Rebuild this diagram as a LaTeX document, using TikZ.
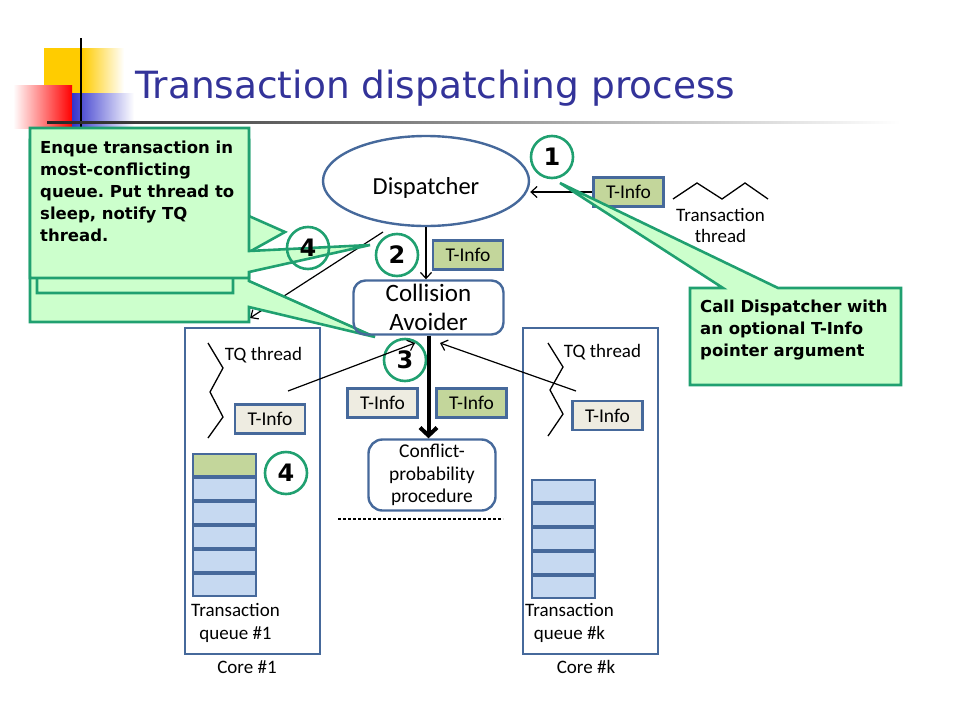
\documentclass[tikz,border=0pt]{standalone}
\usepackage{fontspec}
\setmainfont{Carlito}
\newfontfamily\dejavu{DejaVu Sans}
\usetikzlibrary{positioning, shapes.geometric, arrows.meta}
\frenchspacing

\definecolor{callgreen}{RGB}{32,160,112}
\definecolor{callfill}{RGB}{204,255,204}
\definecolor{boxblue}{RGB}{70,105,155}
\definecolor{tinfoOlive}{RGB}{195,214,155}
\definecolor{tinfoBeige}{RGB}{238,236,225}
\definecolor{cellblue}{RGB}{198,217,241}
\definecolor{titleblue}{RGB}{51,51,153}
\definecolor{decoyellow}{RGB}{255,204,0}
\definecolor{decored}{RGB}{255,0,0}
\definecolor{decoblue}{RGB}{51,51,204}

\begin{document}
\begin{tikzpicture}[x=1pt, y=-1pt,
    tinfo/.style={draw=boxblue, line width=2.6pt, minimum width=70pt, minimum height=29pt, inner sep=0pt, font=\fontsize{19.5}{21}\selectfont},
    numcirc/.style={circle, draw=callgreen, line width=2.6pt, minimum size=42pt, inner sep=0pt, font=\dejavu\bfseries\fontsize{24}{24}\selectfont},
    cell/.style={draw=boxblue, line width=2.2pt, fill=cellblue, minimum width=63pt, minimum height=22pt, inner sep=0pt},
    corebox/.style={draw=boxblue, line width=2pt, minimum width=135pt, minimum height=326pt, inner sep=0pt},
    callout/.style={draw=callgreen, fill=callfill, line width=2.6pt},
    calltext/.style={anchor=north west, align=left, inner sep=0pt, font=\dejavu\bfseries\fontsize{16.5}{22}\selectfont},
    thinarrow/.style={line width=1.2pt, -{Straight Barb[length=6pt, width=11pt]}},
    lbl/.style={align=center, inner sep=0pt, font=\fontsize{19}{22.5}\selectfont}]
    \useasboundingbox (0,0) rectangle (960,720);

    \fill[decoyellow] (44,48) rectangle (82,122);
    \shade[left color=decoyellow, right color=white] (82,48) rectangle (124,122);
    \shade[left color=white, right color=decored] (13,85) rectangle (72,128);
    \shade[left color=decoblue, right color=white] (72,93) rectangle (134,128);
    \draw[line width=1.8pt] (81,38) -- (81,128);
    \shade[left color=black!85, right color=white] (47,121) rectangle (900,123.5);
    \node[anchor=base west, inner sep=0pt, text=titleblue, font=\dejavu\fontsize{37.5}{40}\selectfont] (title) at (135,98.5) {Transaction dispatching process};

    \coordinate (dispOut) at (383,232);
    \coordinate (coreIn) at (250,318);
    \draw[thinarrow] (dispOut) -- (coreIn);

    \draw[callout] (30,140) -- (249,140) -- (249,281) -- (375,337) -- (249,307) -- (249,322) -- (30,322) -- cycle;
    \draw[callout] (37,140) -- (233,140) -- (233,209) -- (285,232) -- (233,261) -- (233,293) -- (37,293) -- cycle;
    \draw[callout] (30,128) -- (249,128) -- (249,251) -- (370,245) -- (249,272) -- (249,278) -- (30,278) -- cycle;
    \node[calltext] (enqText) at (40,140.5) {Enque transaction in\\most-conflicting\\queue. Put thread to\\sleep, notify TQ\\thread.};
    \node[numcirc] (n4a) at (308,248) {4};

    \node[ellipse, draw=boxblue, line width=2.4pt, minimum width=206pt, minimum height=90pt, inner sep=0pt] (disp) at (426,181) {};
    \node[anchor=base, inner sep=0pt, font=\fontsize{24.5}{26}\selectfont] (dispText) at (426,194) {Dispatcher};
    \node[tinfo, fill=tinfoOlive] (tinfo1) at (628.5,192) {T-Info};
    \draw[thinarrow] (tinfo1.west) -- (tinfo1.west -| disp.east);
    \node[numcirc] (n1) at (552,157) {1};
    \draw[line width=1.3pt] (673,199) -- (697,183) -- (722,199) -- (745,183) -- (768,199);
    \node[lbl, font=\fontsize{19}{21.5}\selectfont] (tthread) at (720.5,225.5) {Transaction\\thread};

    \node[draw=boxblue, line width=2.4pt, rounded corners=12pt, minimum width=150pt, minimum height=54pt, inner sep=0pt, align=center, font=\fontsize{25}{29}\selectfont] (collav) at (428.5,307.5) {Collision\\Avoider};
    \draw[thinarrow] (disp.south) -- (disp.south |- collav.north);
    \node[numcirc] (n2) at (397,255) {2};
    \node[tinfo, fill=tinfoOlive] (tinfo2) at (468,255) {T-Info};

    \node[numcirc] (n3) at (405,360) {3};
    \node[tinfo, fill=tinfoBeige] (tinfo3) at (382.5,403) {T-Info};
    \node[tinfo, fill=tinfoOlive] (tinfo4) at (471.5,403) {T-Info};
    \node[draw=boxblue, line width=2.4pt, rounded corners=14pt, minimum width=127pt, minimum height=71pt, inner sep=0pt, align=center, font=\fontsize{19.5}{22.5}\selectfont] (conf) at (432,475) {Conflict-\\probability\\procedure};
    \draw[line width=4pt, -{Straight Barb[length=8pt, width=17pt]}] (collav.south) -- (collav.south |- conf.north);
    \draw[line width=1.2pt, dash pattern=on 3pt off 2pt] (338,519) -- (503,519);

    \node[corebox] (core1) at (252.5,491) {};
    \node[corebox] (corek) at (590,491) {};
    \node[anchor=base, inner sep=0pt, font=\fontsize{19}{20}\selectfont] (core1Lbl) at (247,673) {Core \#1};
    \node[anchor=base, inner sep=0pt, font=\fontsize{19}{20}\selectfont] (corekLbl) at (586,673) {Core \#k};

    \draw[line width=1.3pt] (208,343) -- (223,368) -- (210,392) -- (223,417) -- (208,438);
    \draw[line width=1.3pt] (548,343) -- (563,367) -- (550,390) -- (563,414) -- (548,436);
    \node[anchor=base, inner sep=0pt, font=\fontsize{19}{20}\selectfont] (tq1Lbl) at (263.5,360) {TQ thread};
    \node[anchor=base, inner sep=0pt, font=\fontsize{19}{20}\selectfont] (tqkLbl) at (602.5,357) {TQ thread};
    \node[tinfo, fill=tinfoBeige] (tinfo5) at (270,419) {T-Info};
    \node[tinfo, fill=tinfoBeige] (tinfo6) at (607.5,415.5) {T-Info};

    \coordinate (tqL) at (288,391);
    \coordinate (tqR) at (576,391);
    \coordinate (avoidL) at (415,343);
    \coordinate (avoidR) at (440,343);
    \draw[thinarrow] (tqL) -- (avoidL);
    \draw[thinarrow] (tqR) -- (avoidR);

    \node[cell, fill=tinfoOlive] (q1top) at (224.5,465) {};
    \foreach \i in {0,...,4}
        \node[cell] (q1c\i) at (224.5,{489+24*\i}) {};
    \foreach \i in {0,...,4}
        \node[cell] (qkc\i) at (563.5,{491+24*\i}) {};
    \node[numcirc] (n4b) at (286,473) {4};
    \node[lbl] (q1Lbl) at (235.5,623) {Transaction\\queue \#1};
    \node[lbl] (qkLbl) at (569.5,623) {Transaction\\queue \#k};

    \draw[callout] (690,288) -- (723,288) -- (560,183) -- (778,288) -- (901,288) -- (901,385) -- (690,385) -- cycle;
    \node[calltext] (callText) at (700,299.5) {Call Dispatcher with\\an optional T-Info\\pointer argument};
\end{tikzpicture}
\end{document}
